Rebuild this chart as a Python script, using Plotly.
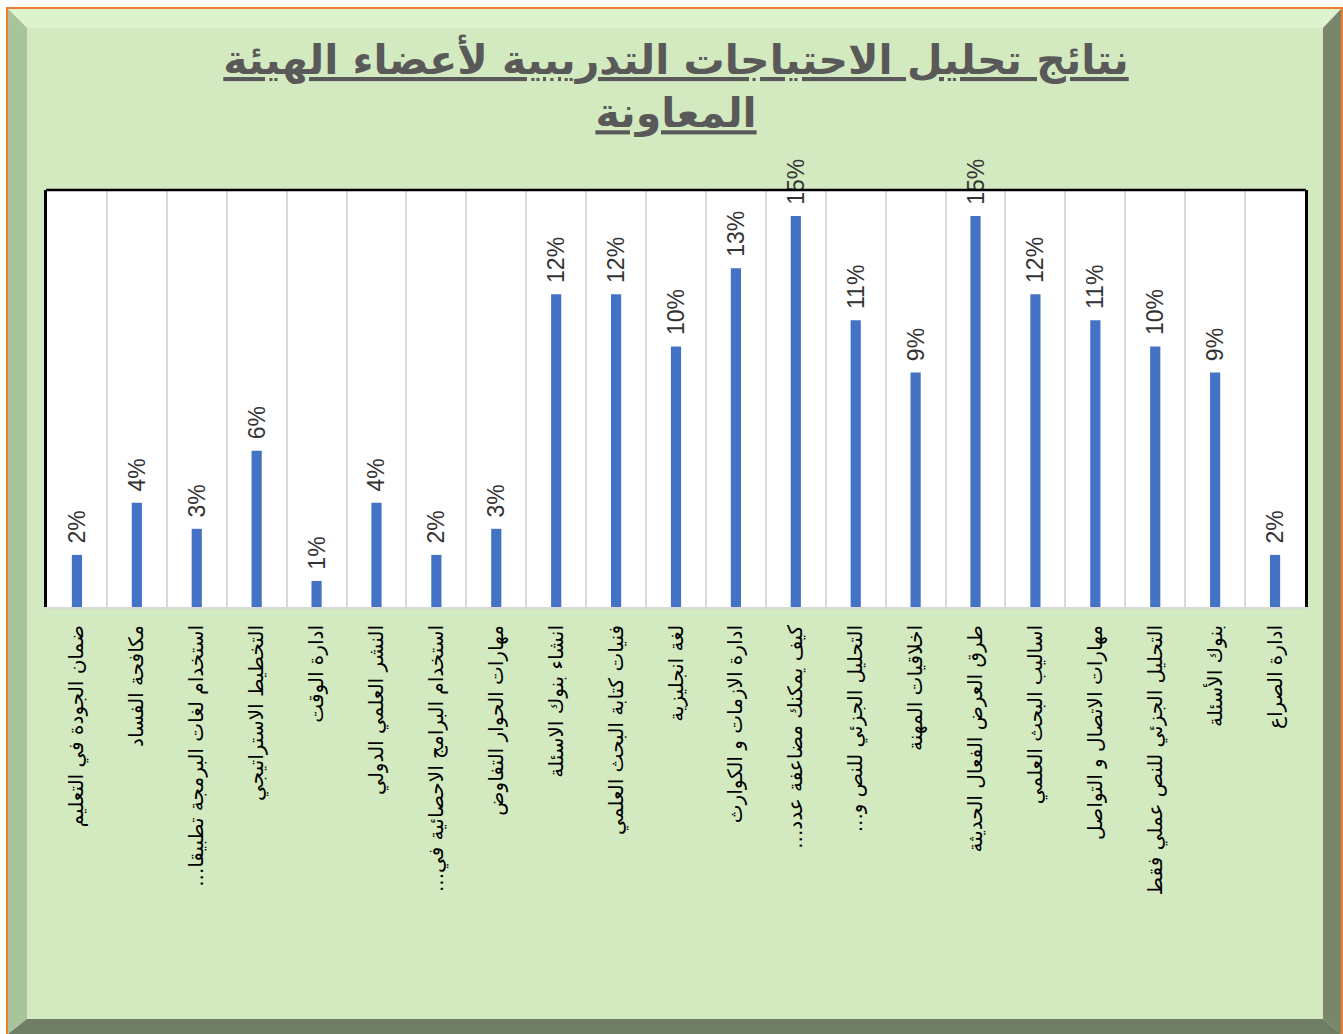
import plotly.graph_objects as go

RLM = "\u200f"
categories = [
    "ضمان الجودة في التعليم",
    "مكافحة الفساد",
    "استخدام لغات البرمجة تطبيقا..." + RLM,
    "التخطيط الاستراتيجي",
    "ادارة الوقت",
    "النشر العلمي الدولي",
    "استخدام البرامج الاحصائية في..." + RLM,
    "مهارات الحوار التفاوض",
    "انشاء بنوك الاسئلة",
    "فنيات كتابة البحث العلمي",
    "لغة انجليزية",
    "ادارة الازمات و الكوارث",
    "كيف يمكنك مضاعفة عدد..." + RLM,
    "التحليل الجزئي للنص و..." + RLM,
    "اخلاقيات المهنة",
    "طرق العرض الفعال الحديثة",
    "اساليب البحث العلمي",
    "مهارات الاتصال و التواصل",
    "التحليل الجزئي للنص عملي فقط",
    "بنوك الأسئلة",
    "ادارة الصراع",
]
values = [2, 4, 3, 6, 1, 4, 2, 3, 12, 12, 10, 13, 15, 11, 9, 15, 12, 11, 10, 9, 2]

title_text = "نتائج تحليل الاحتياجات التدريبية لأعضاء الهيئة<br>المعاونة"

W, H = 1343, 1034
L, R, T, B = 47, 1305, 190, 607


def px(x):
    return (x - L) / (R - L)


def py(y):
    return (B - y) / (B - T)


def poly(pts):
    return "M " + " L ".join(f"{px(a):.5f},{py(b):.5f}" for a, b in pts) + " Z"


fig = go.Figure()
fig.add_trace(go.Bar(
    x=categories,
    y=values,
    width=0.17,
    marker=dict(color="#4472c4", line=dict(width=0)),
    texttemplate="\u00a0\u200a%{y}%",
    textposition="outside",
    textangle=-90,
    constraintext="none",
    cliponaxis=False,
    textfont=dict(family="Liberation Sans, Arial, sans-serif", size=23, color="#333333"),
    hoverinfo="skip",
))

shapes = []
# frame background + bevels
shapes.append(dict(type="path", path=poly([(8, 9), (1341, 9), (1341, 1034), (8, 1034)]),
                   xref="paper", yref="paper", fillcolor="#d3eac1", line=dict(width=0), layer="below"))
shapes.append(dict(type="path", path=poly([(8, 9), (1341, 9), (1323, 28), (27, 28)]),
                   xref="paper", yref="paper", fillcolor="#dcf3cd", line=dict(width=0), layer="below"))
shapes.append(dict(type="path", path=poly([(8, 9), (27, 28), (27, 1019), (8, 1034)]),
                   xref="paper", yref="paper", fillcolor="#a8c49b", line=dict(width=0), layer="below"))
shapes.append(dict(type="path", path=poly([(1341, 9), (1341, 1034), (1323, 1019), (1323, 28)]),
                   xref="paper", yref="paper", fillcolor="#7a866b", line=dict(width=0), layer="below"))
shapes.append(dict(type="path", path=poly([(8, 1034), (27, 1019), (1323, 1019), (1341, 1034)]),
                   xref="paper", yref="paper", fillcolor="#6f7d64", line=dict(width=0), layer="below"))
# orange outer border
shapes.append(dict(type="path", path="M " + f"{px(7):.5f},{py(1040):.5f} L {px(7):.5f},{py(8):.5f} L {px(1342):.5f},{py(8):.5f} L {px(1342):.5f},{py(1040):.5f}",
                   xref="paper", yref="paper", line=dict(color="#ed7d31", width=2), layer="below"))
# plot area white
shapes.append(dict(type="rect", x0=0, x1=1, y0=0, y1=1, xref="paper", yref="paper",
                   fillcolor="white", line=dict(width=0), layer="below"))
# top black border
shapes.append(dict(type="line", x0=px(L - 1), x1=px(R + 1), y0=1, y1=1, xref="paper", yref="paper",
                   line=dict(color="black", width=2.5), layer="above"))

fig.update_layout(
    width=W, height=H,
    margin=dict(l=L, r=W - R, t=T, b=H - B, pad=0),
    paper_bgcolor="white",
    plot_bgcolor="white",
    showlegend=False,
    shapes=shapes,
    bargap=0.83,
    title=dict(
        text=title_text,
        x=0.5, xref="paper", xanchor="center",
        y=1 - 74 / H, yref="container", yanchor="top",
        font=dict(family="DejaVu Sans", size=41, color="#595959", weight="bold", lineposition="under"),
    ),
    xaxis=dict(
        type="category",
        tickson="boundaries",
        showgrid=True, gridcolor="#d9d9d9", gridwidth=2,
        showline=True, linecolor="#d9d9d9", linewidth=2,
        ticks="", tickangle=-90,
        ticklabelstandoff=8,
        tickfont=dict(family="DejaVu Sans", size=20, color="black"),
        automargin=False,
    ),
    yaxis=dict(
        range=[0, 16],
        showgrid=False, zeroline=False,
        showticklabels=False, ticks="",
        showline=True, linecolor="black", linewidth=2.5, mirror=True,
        automargin=False,
    ),
)

fig.write_html("out.html")
